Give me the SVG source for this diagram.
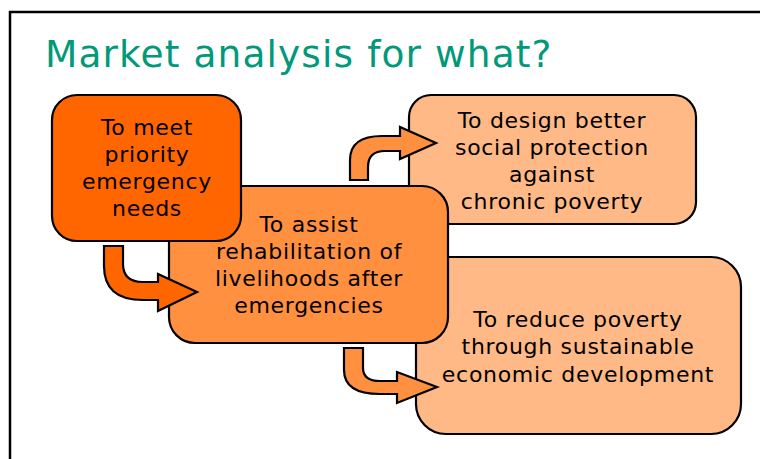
<svg xmlns="http://www.w3.org/2000/svg" width="760" height="459" viewBox="0 0 760 459">
<style>
.box{stroke:#000;stroke-width:2.2}
.arr{stroke:#000;stroke-width:2.2;stroke-linejoin:miter}
.t{font-family:"DejaVu Sans","Liberation Sans",sans-serif;font-size:22px;letter-spacing:0.7px;fill:#000;text-anchor:middle}
.title{font-family:"DejaVu Sans","Liberation Sans",sans-serif;font-size:37.5px;letter-spacing:1.1px;fill:#00997A}
</style>
<rect width="760" height="459" fill="#fff"/>
<path d="M10,459 V12 H760" fill="none" stroke="#000" stroke-width="2.5"/>
<text class="title" x="45" y="67">Market analysis for what?</text>
<g id="node-social">
<rect class="box" x="409" y="95" width="287" height="129" rx="22" fill="#FFB987"/>
<text class="t" x="552" y="128">To design better</text>
<text class="t" x="552" y="155">social protection</text>
<text class="t" x="552" y="182">against</text>
<text class="t" x="552" y="209">chronic poverty</text>
</g>
<g id="node-poverty">
<rect class="box" x="416" y="257" width="325" height="177" rx="30" fill="#FFB987"/>
<text class="t" x="578" y="327">To reduce poverty</text>
<text class="t" x="578" y="354">through sustainable</text>
<text class="t" x="578" y="382">economic development</text>
</g>
<g id="node-rehab">
<rect class="box" x="169" y="186" width="279" height="157" rx="26" fill="#FF9040"/>
<text class="t" x="309" y="232">To assist</text>
<text class="t" x="309" y="259">rehabilitation of</text>
<text class="t" x="309" y="286">livelihoods after</text>
<text class="t" x="309" y="313">emergencies</text>
</g>
<g id="node-emergency">
<rect class="box" x="52" y="95" width="189" height="146" rx="25" fill="#FF6600"/>
<text class="t" x="147" y="135">To meet</text>
<text class="t" x="147" y="162">priority</text>
<text class="t" x="147" y="189">emergency</text>
<text class="t" x="147" y="216">needs</text>
</g>
<g id="connectors">
<path class="arr" fill="#FF6600" d="M104,246 H123 V264 Q123,282 143,282 H158 V274 L197,292 L158,311 V300 H143 Q104,300 104,266 Z"/>
<path class="arr" fill="#FF9040" d="M350,180 V160 Q350,136 382,136 H400 V127 L436,143 L400,159 V151 H385 Q368,151 368,167 V180 Z"/>
<path class="arr" fill="#FF9040" d="M344,348 H363 V368 Q363,381 380,381 H397 V372 L437,387 L397,403 V394 H380 Q344,394 344,370 Z"/>
</g>
</svg>
